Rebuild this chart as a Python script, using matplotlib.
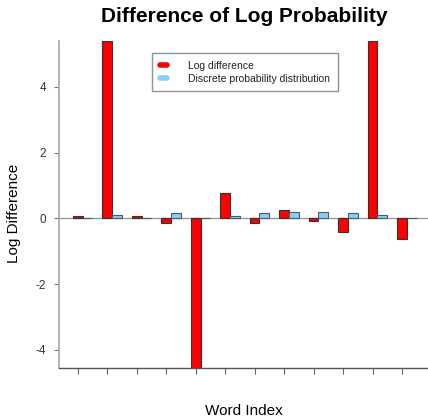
import numpy as np
import matplotlib
matplotlib.use('Agg')
import matplotlib.pyplot as plt
from matplotlib.lines import Line2D

plt.rcParams['font.family'] = ['Liberation Sans', 'DejaVu Sans']
plt.rcParams['axes.unicode_minus'] = False

# values (12 words)
log_diff = [0.07, 5.4, 0.06, -0.13, -4.6, 0.77, -0.13, 0.25, -0.07, -0.41, 5.4, -0.62]
prob_dist = [0.01, 0.09, 0.0, 0.16, 0.0, 0.08, 0.16, 0.18, 0.19, 0.16, 0.09, 0.01]
series_names = ['Log difference', 'Discrete probability distribution']
colors = ['#ff0000', '#87cefa']

n = len(log_diff)
# R barplot(beside=TRUE) layout: width 1, space c(0,1)
left_red = 1 + 3 * np.arange(n)
left_blue = left_red + 1

fig = plt.figure(figsize=(4.28, 4.18), dpi=100)
ax = fig.add_axes([59 / 428, 49.7 / 418, 371.5 / 428, 327.3 / 418])

ax.axhline(0, color='#999999', lw=1.0, zorder=1)
ax.bar(left_red, log_diff, width=1, align='edge', color=colors[0],
       edgecolor='#333333', linewidth=0.8, zorder=2)
ax.bar(left_blue, prob_dist, width=1, align='edge', color=colors[1],
       edgecolor='#4a5a66', linewidth=0.8, zorder=2)

ax.set_xlim(-0.4, 37.4)
ax.set_ylim(-4.56, 5.39)

for s in ['top', 'right']:
    ax.spines[s].set_visible(False)
ax.spines['left'].set_color('#a6a6a6')
ax.spines['left'].set_linewidth(1.2)
ax.spines['bottom'].set_color('#555555')
ax.spines['bottom'].set_linewidth(1.0)

ax.set_yticks([-4, -2, 0, 2, 4])
ax.tick_params(axis='y', length=3.6, width=0.8, color='#777777', pad=5.5,
               labelsize=8.5, labelcolor='#333333')
ax.set_xticks(left_red + 0.5)
ax.set_xticklabels([])
ax.tick_params(axis='x', length=4, width=0.8, color='#666666')

handles = [Line2D([0], [0], color=c, lw=4, solid_capstyle='round') for c in colors]
leg = ax.legend(handles, series_names, loc='upper left',
                bbox_to_anchor=(0.2495, 0.9642), borderaxespad=0,
                fontsize=7.5, frameon=True, fancybox=False,
                handlelength=0.75, handletextpad=2.0, borderpad=0.75,
                labelspacing=0.3)
leg.get_frame().set_edgecolor('#777777')
leg.get_frame().set_linewidth(1.0)
for t in leg.get_texts():
    t.set_color('#222222')

fig.text(244 / 428, 1 - 17 / 418, 'Difference of Log Probability',
         ha='center', va='center', fontsize=15, fontweight='bold')
fig.text(244 / 428, 1 - 411 / 418, 'Word Index', ha='center', va='center', fontsize=11)
fig.text(14 / 428, 205 / 418, 'Log Difference', ha='center', va='center',
         rotation=90, fontsize=11)

fig.savefig('out.png', dpi=100)
